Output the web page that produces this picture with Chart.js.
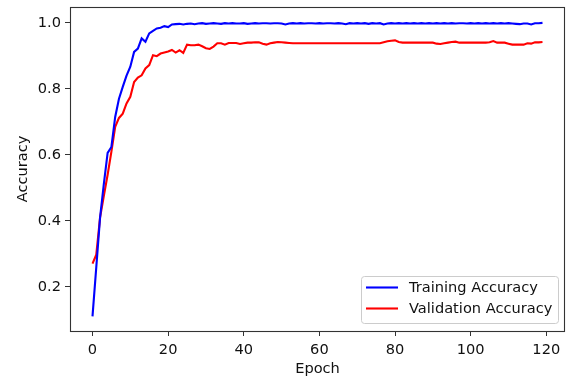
<!DOCTYPE html>
<html>
<head>
<meta charset="utf-8">
<script src="https://cdn.jsdelivr.net/npm/chart.js@4.4.1/dist/chart.umd.min.js"></script>
<style>
  html, body { margin: 0; padding: 0; background: #fff; }
  #wrap { width: 569px; height: 378px; }
</style>
</head>
<body>
<div id="wrap"><canvas id="c" width="569" height="378"></canvas></div>
<script>
const epochs = [0,1,2,3,4,5,6,7,8,9,10,11,12,13,14,15,16,17,18,19,20,21,22,23,24,25,26,27,28,29,
30,31,32,33,34,35,36,37,38,39,40,41,42,43,44,45,46,47,48,49,50,51,52,53,54,55,56,57,58,59,
60,61,62,63,64,65,66,67,68,69,70,71,72,73,74,75,76,77,78,79,80,81,82,83,84,85,86,87,88,89,
90,91,92,93,94,95,96,97,98,99,100,101,102,103,104,105,106,107,108,109,110,111,112,113,114,115,116,117,118,119];

const trainingAccuracy = [
0.111,0.26,0.41,0.512,0.606,0.624,0.715,0.77,0.806,0.84,
0.867,0.912,0.922,0.953,0.943,0.968,0.976,0.983,0.985,0.99,
0.987,0.995,0.996,0.997,0.995,0.997,0.998,0.996,0.998,0.999,
0.997,0.998,0.999,0.998,0.997,0.999,0.998,0.999,0.998,0.998,
0.999,0.997,0.998,0.999,0.998,0.999,0.999,0.998,0.999,0.999,
0.998,0.995,0.998,0.999,0.998,0.999,0.998,0.999,0.999,0.998,
0.999,0.998,0.999,0.999,0.998,0.999,0.998,0.996,0.999,0.998,
0.999,0.998,0.999,0.997,0.999,0.998,0.999,0.995,0.998,0.999,
0.998,0.999,0.998,0.999,0.998,0.999,0.998,0.999,0.998,0.999,
0.998,0.999,0.998,0.999,0.998,0.999,0.998,0.999,0.999,0.998,
0.999,0.998,0.999,0.998,0.999,0.998,0.999,0.998,0.999,0.998,
0.999,0.998,0.997,0.996,0.998,0.998,0.995,0.999,0.999,1.0];

const validationAccuracy = [
0.271,0.298,0.41,0.476,0.54,0.61,0.685,0.712,0.725,0.756,
0.776,0.821,0.834,0.841,0.862,0.872,0.902,0.899,0.907,0.91,
0.913,0.918,0.91,0.917,0.909,0.934,0.932,0.932,0.934,0.929,
0.923,0.921,0.928,0.938,0.938,0.934,0.939,0.939,0.939,0.936,
0.938,0.94,0.94,0.941,0.941,0.937,0.934,0.938,0.94,0.942,
0.941,0.94,0.939,0.938,0.938,0.938,0.938,0.938,0.938,0.938,
0.938,0.938,0.938,0.938,0.938,0.938,0.938,0.938,0.938,0.938,
0.938,0.938,0.938,0.938,0.938,0.938,0.938,0.941,0.944,0.946,
0.947,0.942,0.94,0.94,0.94,0.94,0.94,0.94,0.94,0.94,
0.94,0.937,0.936,0.938,0.94,0.942,0.943,0.94,0.94,0.94,
0.94,0.94,0.94,0.94,0.94,0.941,0.945,0.94,0.94,0.94,
0.937,0.934,0.934,0.934,0.934,0.938,0.937,0.941,0.941,0.942];

const xTicks = [0, 20, 40, 60, 80, 100, 120];
const yTicks = [0.2, 0.4, 0.6, 0.8, 1.0];
const seriesNames = ['Training Accuracy', 'Validation Accuracy'];

const FONT = '"DejaVu Sans", sans-serif';
const FS = 14.6;

const boxAndLegend = {
  id: 'boxAndLegend',
  afterDatasetsDraw(chart) {
    const ctx = chart.ctx;
    const ca = chart.chartArea;
    ctx.save();
    ctx.strokeStyle = '#333';
    ctx.lineWidth = 1.1;
    ctx.strokeRect(Math.round(ca.left) + 0.5, Math.round(ca.top) + 0.5,
                   Math.round(ca.right - ca.left) - 1, Math.round(ca.bottom - ca.top));
    ctx.font = FS + 'px ' + FONT;
    const ds = chart.data.datasets;
    let maxW = 0;
    ds.forEach(d => { maxW = Math.max(maxW, ctx.measureText(d.label).width); });
    const w = Math.round(48 + maxW + 6);
    const h = 47;
    const x = Math.round(ca.right - 7 - w);
    const y = Math.round(ca.bottom - 8 - h);
    ctx.beginPath();
    ctx.roundRect(x + 0.5, y + 0.5, w, h, 3);
    ctx.fillStyle = 'rgba(255,255,255,0.8)';
    ctx.fill();
    ctx.strokeStyle = '#cccccc';
    ctx.lineWidth = 1;
    ctx.stroke();
    ds.forEach((d, i) => {
      const cy = y + 11.5 + i * 21;
      ctx.beginPath();
      ctx.moveTo(x + 5, cy);
      ctx.lineTo(x + 37, cy);
      ctx.strokeStyle = d.borderColor;
      ctx.lineWidth = 2.1;
      ctx.stroke();
      ctx.fillStyle = '#111';
      ctx.textBaseline = 'middle';
      ctx.textAlign = 'left';
      ctx.fillText(d.label, x + 48, cy + 1);
    });
    ctx.restore();
  }
};

new Chart(document.getElementById('c'), {
  type: 'line',
  data: {
    labels: epochs,
    datasets: [
      { label: seriesNames[0], data: trainingAccuracy, borderColor: '#0000ff', backgroundColor: '#0000ff',
        borderWidth: 2.1, pointRadius: 0, tension: 0, fill: false },
      { label: seriesNames[1], data: validationAccuracy, borderColor: '#ff0000', backgroundColor: '#ff0000',
        borderWidth: 2.1, pointRadius: 0, tension: 0, fill: false }
    ]
  },
  options: {
    responsive: false,
    animation: false,
    devicePixelRatio: 1,
    layout: { padding: { top: 7, right: 4, left: 0, bottom: 0 } },
    plugins: { legend: { display: false }, tooltip: { enabled: false } },
    scales: {
      x: {
        type: 'linear',
        min: -5.95, max: 124.95,
        afterBuildTicks(scale) { scale.ticks = xTicks.map(v => ({ value: v })); },
        afterFit(scale) { scale.height = 47; scale.paddingLeft = 0; scale.paddingRight = 0; },
        grid: { display: true, drawOnChartArea: false, drawTicks: true, tickLength: 5, color: '#333', lineWidth: 1 },
        border: { display: false },
        ticks: { color: '#111', font: { family: FONT, size: FS }, padding: 5, maxRotation: 0, autoSkip: false,
                 callback: v => String(v) },
        title: { display: true, text: 'Epoch', color: '#111', font: { family: FONT, size: FS }, padding: { top: 2, bottom: 0 } }
      },
      y: {
        type: 'linear',
        min: 0.0667, max: 1.048,
        afterBuildTicks(scale) { scale.ticks = yTicks.map(v => ({ value: v })); },
        afterFit(scale) { scale.width = 70; scale.paddingTop = 0; scale.paddingBottom = 0; },
        grid: { display: true, drawOnChartArea: false, drawTicks: true, tickLength: 5, color: '#333', lineWidth: 1 },
        border: { display: false },
        ticks: { color: '#111', font: { family: FONT, size: FS }, padding: 4, autoSkip: false,
                 callback: v => v.toFixed(1) },
        title: { display: true, text: 'Accuracy', color: '#111', font: { family: FONT, size: FS }, padding: { top: 14, bottom: 0 } }
      }
    }
  },
  plugins: [boxAndLegend]
});
</script>
</body>
</html>
